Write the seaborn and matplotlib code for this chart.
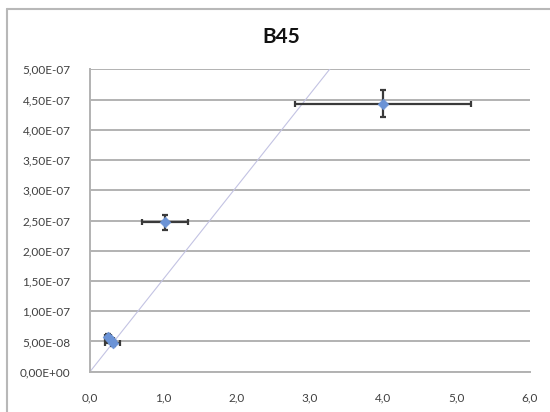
import numpy as np
import pandas as pd
import matplotlib
matplotlib.use('Agg')
import matplotlib.pyplot as plt
from matplotlib.ticker import FuncFormatter, MultipleLocator
from matplotlib.lines import Line2D
import seaborn as sns

# data
x_vals = [0.24, 0.28, 0.31, 1.02, 4.0]
y_vals = [5.8e-8, 5.2e-8, 4.7e-8, 2.47e-7, 4.43e-7]
x_err = [0.04, 0.05, 0.10, 0.31, 1.2]
y_err = [0.4e-8, 0.4e-8, 0.4e-8, 0.12e-7, 0.22e-7]
trend_slope = 1.53e-7
trend_x = [0.0, 6.0]
title = 'B45'

df = pd.DataFrame({'x': x_vals, 'y': y_vals})
trend = pd.DataFrame({'x': trend_x, 'y': [trend_slope * v for v in trend_x]})

sns.set_theme(style='white')
plt.rcParams['font.family'] = ['Lato', 'DejaVu Sans']

fig = plt.figure(figsize=(5.5, 4.12), dpi=100)
ax = fig.add_axes([0.1636, 0.0978, 0.80, 0.734])

# trend line
sns.lineplot(data=trend, x='x', y='y', ax=ax, color='#c3c3e3', lw=0.8, zorder=2)

# error bars
ax.errorbar(x_vals, y_vals, xerr=x_err, yerr=y_err, fmt='none',
            ecolor='#3a3a3a', elinewidth=1.6, capsize=2.5, capthick=1.6, zorder=3)

# points
sns.scatterplot(data=df, x='x', y='y', ax=ax, marker='D', s=30,
                color='#6b93d6', edgecolor='#6b93d6', zorder=4)

ax.set_xlim(0, 6)
ax.set_ylim(0, 5e-7)
ax.xaxis.set_major_locator(MultipleLocator(1.0))
ax.yaxis.set_major_locator(MultipleLocator(0.5e-7))
ax.xaxis.set_major_formatter(FuncFormatter(lambda v, p: f'{v:.1f}'.replace('.', ',')))
ax.yaxis.set_major_formatter(FuncFormatter(lambda v, p: f'{v:.2E}'.replace('.', ',')))
ax.grid(axis='y', color='#b2b2b2', lw=1.4)
ax.grid(axis='x', visible=False)
ax.set_axisbelow(True)
ax.set_xlabel('')
ax.set_ylabel('')
ax.tick_params(axis='both', labelsize=8.5, colors='#404040', length=0)
ax.tick_params(axis='x', pad=15)
ax.tick_params(axis='y', pad=14)
for s in ['top', 'right']:
    ax.spines[s].set_visible(False)
for s in ['left', 'bottom']:
    ax.spines[s].set_color('#b2b2b2')
    ax.spines[s].set_linewidth(1.4)

fig.text(281 / 550, 1 - 37 / 412, title, ha='center', va='center',
         fontsize=15, fontweight='bold', color='#111111')

# chart border (top and left visible in the crop)
fig.add_artist(Line2D([7 / 550, 1.0], [1 - 9 / 412, 1 - 9 / 412],
                      transform=fig.transFigure, color='#b8b8b8', lw=1.5))
fig.add_artist(Line2D([7 / 550, 7 / 550], [0.0, 1 - 9 / 412],
                      transform=fig.transFigure, color='#b8b8b8', lw=1.5))

fig.savefig('out.png', dpi=100)
